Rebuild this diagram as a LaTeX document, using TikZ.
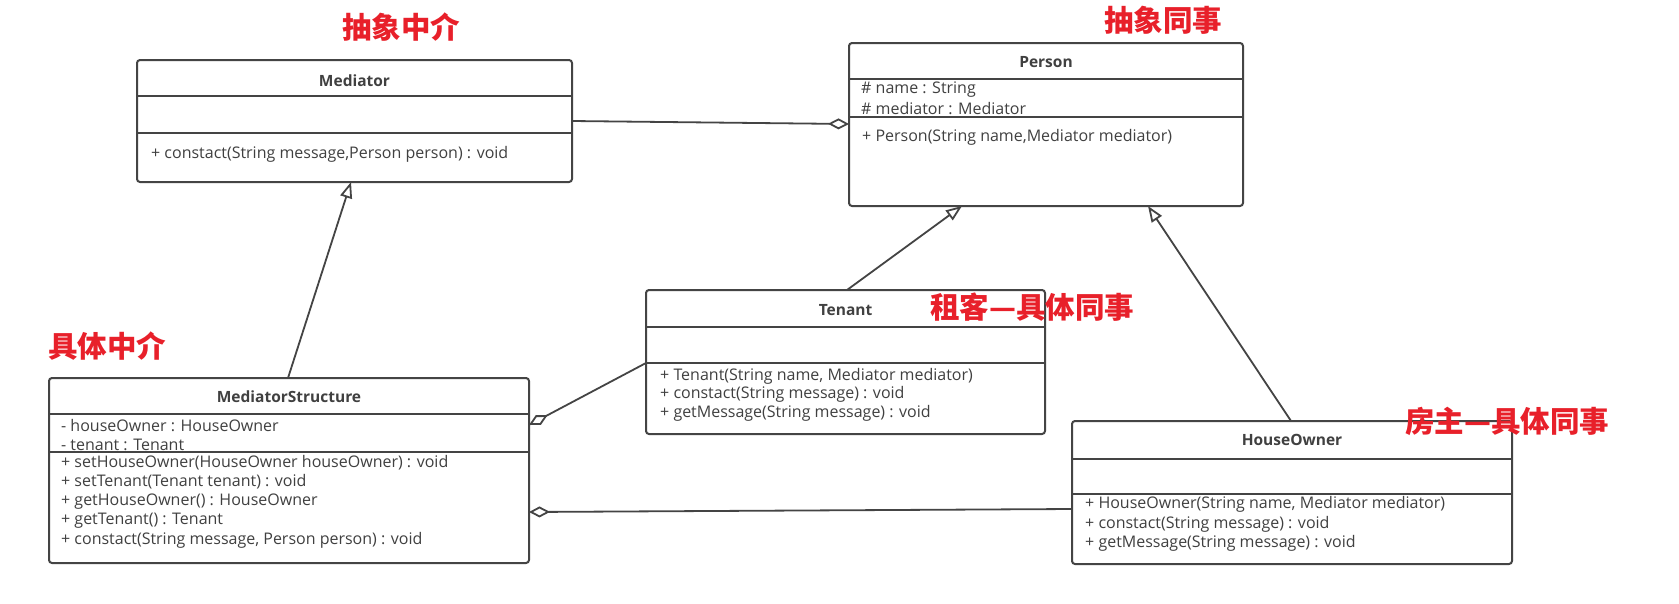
\documentclass[tikz,border=0pt]{standalone}
\usepackage{fontspec}
\setmainfont{Open Sans}
\newfontfamily\cjk{Noto Sans CJK SC}
\usetikzlibrary{arrows.meta,calc}
\definecolor{lc}{HTML}{444444}
\definecolor{tc}{HTML}{404040}
\definecolor{lred}{HTML}{E8202A}
\tikzset{
 cls/.style={draw=lc, line width=2pt, rounded corners=3pt, inner sep=0pt, outer sep=0pt, anchor=north west, fill=white},
 ttl/.style={font=\fontsize{15.5}{18}\selectfont\bfseries, text=tc, inner sep=0pt},
 mem/.style={font=\fontsize{16}{19}\selectfont, text=tc, inner sep=0pt, anchor=west},
 lbl/.style={font=\cjk\bfseries\fontsize{29.5}{32}\selectfont, text=lred, inner sep=0pt},
 div/.style={draw=lc, line width=2pt},
 gen/.style={draw=lc, line width=1.8pt, -{Triangle[open,length=16pt,width=12pt]}},
 agg/.style={draw=lc, line width=1.8pt, -{Diamond[open,length=21pt,width=11pt]}},
}
\begin{document}
\begin{tikzpicture}[x=1pt,y=-1pt]
\fill[white] (0,0) rectangle (1679,603);
\useasboundingbox (0,0) rectangle (1679,603);

% Mediator
\node[cls, minimum width=435pt, minimum height=122pt] (med) at (137,60) {};
\draw[div] ($(med.north west)+(0,36)$) -- ($(med.north east)+(0,36)$);
\draw[div] ($(med.north west)+(0,73)$) -- ($(med.north east)+(0,73)$);
\node[ttl] (medT) at (354.5,81) {Mediator};
\node[mem] (medM1) at (151,154) {+ constact(String message,Person person) : void};

% Person
\node[cls, minimum width=394pt, minimum height=163pt] (per) at (849,43) {};
\draw[div] ($(per.north west)+(0,36)$) -- ($(per.north east)+(0,36)$);
\node[ttl] (perT) at (1046,62) {Person};
\node[mem] (perA1) at (861,90) {\# name : String};
\node[mem] (perA2) at (861,109) {\# mediator : Mediator};
\draw[div] ($(per.north west)+(0,74)$) -- ($(per.north east)+(0,74)$);
\node[mem] (perM1) at (862,137) {+ Person(String name,Mediator mediator)};

% MediatorStructure
\node[cls, minimum width=480pt, minimum height=185pt] (ms) at (49,378) {};
\draw[div] ($(ms.north west)+(0,36)$) -- ($(ms.north east)+(0,36)$);
\node[ttl] (msT) at (289,397) {MediatorStructure};
\node[mem] (msA1) at (61,426) {- houseOwner : HouseOwner};
\node[mem] (msA2) at (61,445) {- tenant : Tenant};
\draw[div] ($(ms.north west)+(0,74)$) -- ($(ms.north east)+(0,74)$);
\node[mem] (msM1) at (61,463) {+ setHouseOwner(HouseOwner houseOwner) : void};
\node[mem] (msM2) at (61,482) {+ setTenant(Tenant tenant) : void};
\node[mem] (msM3) at (61,502) {+ getHouseOwner() : HouseOwner};
\node[mem] (msM4) at (61,521) {+ getTenant() : Tenant};
\node[mem] (msM5) at (61,540) {+ constact(String message, Person person) : void};

% Tenant
\node[cls, minimum width=399pt, minimum height=144pt] (ten) at (646,290) {};
\draw[div] ($(ten.north west)+(0,37)$) -- ($(ten.north east)+(0,37)$);
\draw[div] ($(ten.north west)+(0,73)$) -- ($(ten.north east)+(0,73)$);
\node[ttl] (tenT) at (845.5,310) {Tenant};
\node[mem] (tenM1) at (660,376) {+ Tenant(String name, Mediator mediator)};
\node[mem] (tenM2) at (660,394) {+ constact(String message) : void};
\node[mem] (tenM3) at (660,413) {+ getMessage(String message) : void};

% HouseOwner
\node[cls, minimum width=440pt, minimum height=143pt] (ho) at (1072,421) {};
\draw[div] ($(ho.north west)+(0,38)$) -- ($(ho.north east)+(0,38)$);
\draw[div] ($(ho.north west)+(0,73)$) -- ($(ho.north east)+(0,73)$);
\node[ttl] (hoT) at (1292,440) {HouseOwner};
\node[mem] (hoM1) at (1085,504) {+ HouseOwner(String name, Mediator mediator)};
\node[mem] (hoM2) at (1085,524) {+ constact(String message) : void};
\node[mem] (hoM3) at (1085,543) {+ getMessage(String message) : void};

% connectors
\draw[agg] ($(med.north east)+(0,61)$) -- ($(per.north west)+(0,81)$);
\draw[gen] ($(ms.north west)+(239,0)$) -- ($(med.south west)+(214,0)$);
\draw[gen] ($(ten.north west)+(201,0)$) -- ($(per.south west)+(113,0)$);
\draw[gen] ($(ho.north west)+(219,0)$) -- ($(per.south west)+(299,0)$);
\draw[agg] ($(ten.north west)+(0,73)$) -- ($(ms.north east)+(0,47)$);
\draw[agg] ($(ho.north west)+(0,88)$) -- ($(ms.north east)+(0,134)$);

% labels
\node[lbl] (l1) at (401,27) {抽象中介};
\node[lbl] (l2) at (1163,20) {抽象同事};
\node[lbl] (l3) at (107,346) {具体中介};
\node[lbl] (l4) at (1032,307) {租客—具体同事};
\node[lbl] (l5) at (1507,421) {房主—具体同事};
\end{tikzpicture}
\end{document}
